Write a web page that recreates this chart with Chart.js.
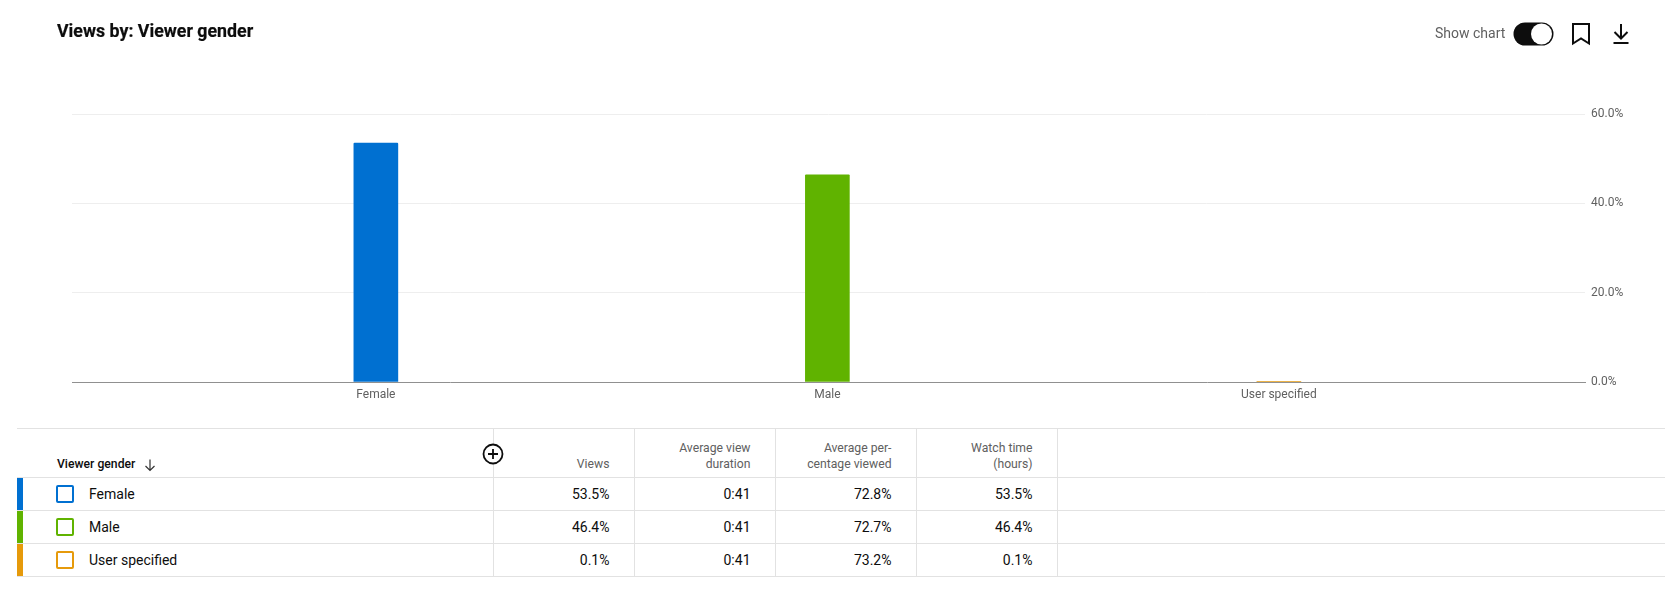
<!DOCTYPE html>
<html>
<head>
<meta charset="utf-8">
<title>Views by: Viewer gender</title>
<script src="https://cdn.jsdelivr.net/npm/chart.js@4/dist/chart.umd.min.js"></script>
<style>
  html, body { margin: 0; padding: 0; background: #fff; }
  body { width: 1665px; height: 602px; position: relative; overflow: hidden; font-family: Roboto, sans-serif; color: #0d0d0d; }
  #wrap { position: absolute; left: 0; top: 1px; width: 1665px; height: 420px; }
  #title { position: absolute; left: 57px; top: 20px; font-size: 17.8px; font-weight: 700; line-height: 22px; -webkit-text-stroke: 0.2px #0d0d0d; }
  #showChart { position: absolute; left: 1435px; top: 24px; font-size: 14px; line-height: 18px; color: #606060; }
  .icon { position: absolute; }
  table { position: absolute; left: 17px; top: 428px; border-collapse: collapse; table-layout: fixed; width: 1648px; }
  th, td { border: 1px solid #e2e2e2; box-sizing: border-box; padding: 0 24px 0 0; text-align: right; font-weight: 400; }
  tr > :first-child { border-left: none; text-align: left; padding: 0; position: relative; }
  tr > :last-child { border-right: none; }
  th { height: 49px; vertical-align: bottom; padding-bottom: 5px; font-size: 12.2px; line-height: 16px; color: #606060; }
  td { height: 33px; font-size: 14px; color: #0d0d0d; }
  th:first-child { color: #0d0d0d; padding-left: 40px; padding-bottom: 0; font-size: 12.2px; font-weight: 500; }
  .headName { position: absolute; left: 40px; bottom: 5px; line-height: 16px; white-space: nowrap; }
  .sortArrow { position: absolute; left: 126px; bottom: 5px; }
  .strip { position: absolute; left: 0; top: 0; bottom: 0; width: 6px; }
  .box { position: absolute; left: 39px; top: 7px; width: 14px; height: 14px; border: 2px solid; border-radius: 2px; }
  .rowName { position: absolute; left: 72px; top: 7px; line-height: 18px; }
  #plus { position: absolute; left: 482px; top: 443px; }
</style>
</head>
<body>
<div id="wrap"><canvas id="genderChart" width="1665" height="420"></canvas></div>
<div id="title">Views by: Viewer gender</div>
<div id="showChart">Show chart</div>

<!-- toggle, bookmark, download -->
<svg class="icon" style="left:1513px;top:22px" width="42" height="24">
  <rect x="0.5" y="0.5" width="40" height="23" rx="11.5" fill="#0d0d0d"/>
  <circle cx="28.5" cy="12" r="10.5" fill="#fff"/>
</svg>
<svg class="icon" style="left:1570px;top:22px" width="22" height="24">
  <path d="M3 2 H19 V21.5 L11 16.5 L3 21.5 Z" fill="none" stroke="#0d0d0d" stroke-width="2"/>
</svg>
<svg class="icon" style="left:1610px;top:22px" width="22" height="24">
  <path d="M11 2 V16 M4.5 10 L11 16.5 L17.5 10 M3.5 21 H18.5" fill="none" stroke="#0d0d0d" stroke-width="2"/>
</svg>

<table id="dataTable"></table>
<svg id="plus" width="22" height="22">
  <circle cx="11" cy="11" r="9.5" fill="#fff" stroke="#0d0d0d" stroke-width="1.8"/>
  <path d="M11 6 V16 M6 11 H16" stroke="#0d0d0d" stroke-width="1.8"/>
</svg>

<script>
// Chart data
const categories = ['Female', 'Male', 'User specified'];
const viewShare = [53.5, 46.4, 0.1];
const barColors = ['#0070d1', '#60b300', '#e69a0b'];
const yTicks = [0, 20, 40, 60];

// Table data
const columnHeaders = ['Views', 'Average view<br>duration', 'Average per-<br>centage viewed', 'Watch time<br>(hours)'];
const viewsCol = ['53.5%', '46.4%', '0.1%'];
const durationCol = ['0:41', '0:41', '0:41'];
const percentViewedCol = ['72.8%', '72.7%', '73.2%'];
const watchTimeCol = ['53.5%', '46.4%', '0.1%'];

// Build the table under the chart
function buildTable() {
    const colWidths = [476, 141, 141, 141, 141, 608];
    let html = '<colgroup>' + colWidths.map(w => `<col style="width:${w}px">`).join('') + '</colgroup>';
    html += '<tr><th><span class="headName">Viewer gender</span><svg class="sortArrow" width="14" height="14"><path d="M7 1.5 V12.5 M2.5 8 L7 12.5 L11.5 8" fill="none" stroke="#333" stroke-width="1.2"/></svg></th>';
    columnHeaders.forEach(h => { html += `<th>${h}</th>`; });
    html += '<th></th></tr>';
    categories.forEach((name, i) => {
        html += `<tr><td><span class="strip" style="background:${barColors[i]}"></span>`
            + `<span class="box" style="border-color:${barColors[i]}"></span>`
            + `<span class="rowName">${name}</span></td>`
            + `<td>${viewsCol[i]}</td><td>${durationCol[i]}</td><td>${percentViewedCol[i]}</td><td>${watchTimeCol[i]}</td><td></td></tr>`;
    });
    document.getElementById('dataTable').innerHTML = html;
}

// Initialize chart
function initChart() {
    const ctx = document.getElementById('genderChart').getContext('2d');
    new Chart(ctx, {
        type: 'bar',
        data: {
            datasets: [{
                label: 'Views',
                data: viewShare.map((v, i) => ({ x: i, y: v })),
                backgroundColor: barColors,
                barThickness: 44,
                borderRadius: { topLeft: 1, topRight: 1 },
                borderSkipped: 'bottom'
            }]
        },
        options: {
            responsive: false,
            animation: false,
            layout: { padding: { left: 72, top: 113, right: 0, bottom: 0 } },
            plugins: {
                legend: { display: false },
                tooltip: { enabled: false }
            },
            scales: {
                x: {
                    type: 'linear',
                    offset: false,
                    min: -0.673,
                    max: 2.678,
                    afterBuildTicks: axis => { axis.ticks = categories.map((c, i) => ({ value: i })); },
                    afterFit: axis => { axis.height = 39; },
                    grid: { display: false },
                    border: { color: '#909090', width: 1 },
                    ticks: {
                        autoSkip: false,
                        maxRotation: 0,
                        padding: -2,
                        color: '#606060',
                        font: { family: 'Roboto', size: 12 },
                        callback: value => categories[value]
                    }
                },
                y: {
                    position: 'right',
                    min: 0,
                    max: 60,
                    afterBuildTicks: axis => { axis.ticks = yTicks.map(v => ({ value: v })); },
                    afterFit: axis => { axis.width = 80; },
                    grid: { color: '#eeeeee', drawTicks: false },
                    border: { display: false },
                    ticks: {
                        padding: 6,
                        color: '#606060',
                        font: { family: 'Roboto', size: 12 },
                        callback: value => value.toFixed(1) + '%'
                    }
                }
            }
        }
    });
}

document.addEventListener('DOMContentLoaded', () => {
    buildTable();
    initChart();
});
</script>
</body>
</html>
